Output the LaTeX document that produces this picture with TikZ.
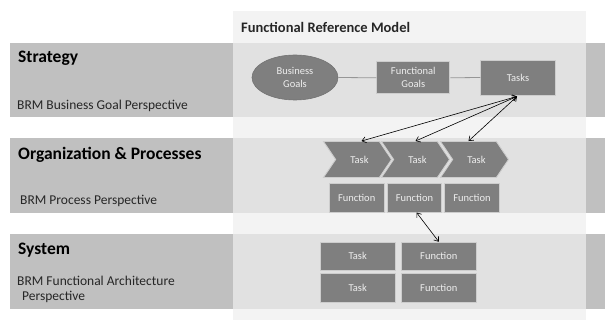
\documentclass[tikz,border=0pt]{standalone}
\usepackage{fontspec}
\setmainfont{Carlito}
\usetikzlibrary{shapes.geometric,shapes.symbols,arrows.meta,calc}
\definecolor{bandside}{RGB}{192,192,192}
\definecolor{bandmid}{RGB}{225,225,225}
\definecolor{panel}{RGB}{243,243,243}
\definecolor{boxfill}{RGB}{127,127,127}
\definecolor{boxedge}{RGB}{205,205,205}
\definecolor{boxtext}{RGB}{238,238,238}
\definecolor{linkgray}{RGB}{150,150,150}

\begin{document}
\begin{tikzpicture}[x=1pt,y=-1pt,
  box/.style={rectangle, fill=boxfill, draw=boxedge, line width=0.9pt, text=boxtext,
    font=\fontsize{10.5}{12}\selectfont, align=center, inner sep=0pt},
  chev/.style={signal, signal to=east, signal from=west, signal pointer angle=112,
    fill=boxfill, draw=boxedge, line width=0.9pt, text=boxtext,
    font=\fontsize{10.5}{12}\selectfont, inner sep=0pt, minimum width=68pt, minimum height=36pt},
  heading/.style={anchor=west, inner sep=0pt, font=\bfseries\fontsize{17.5}{20}\selectfont},
  persp/.style={anchor=west, inner sep=0pt, font=\fontsize{13.5}{15}\selectfont, text=black!85},
  link/.style={draw=linkgray, line width=0.8pt},
  conn/.style={draw=black, line width=0.6pt, {Straight Barb[length=4pt,width=6pt]}-{Straight Barb[length=4pt,width=6pt]}}]

\useasboundingbox (0,0) rectangle (605,320);
\fill[white] (0,0) rectangle (605,320);

% light column behind the model
\fill[panel] (233,11) rectangle (586,320);
\node[anchor=west, inner sep=0pt, font=\bfseries\fontsize{14.5}{16}\selectfont, text=black!85] (title) at (241,27) {Functional Reference Model};

% the three layers
\foreach \top/\bot in {43/117, 138/213, 234/309}{
  \fill[bandside] (10,\top) rectangle (233,\bot);
  \fill[bandmid] (233,\top) rectangle (586,\bot);
  \fill[bandside] (586,\top) rectangle (605,\bot);
}

% layer labels
\node[heading] (hs) at (18,58) {Strategy};
\node[persp] (ps) at (17,106) {BRM Business Goal Perspective};
\node[heading] (ho) at (18,155) {Organization \& Processes};
\node[persp] (po) at (20,201) {BRM Process Perspective};
\node[heading] (hy) at (18,250) {System};
\node[persp] (py1) at (17,281) {BRM Functional Architecture};
\node[persp] (py2) at (22,297) {Perspective};

% strategy layer
\node[ellipse, fill=boxfill, draw=boxfill!90!black, line width=0.6pt, text=boxtext,
  font=\fontsize{10.5}{12}\selectfont, align=center, inner sep=0pt,
  minimum width=86pt, minimum height=45pt] (bg) at (295,77.5) {Business\\[1pt]Goals};
\node[box, minimum width=73pt, minimum height=32pt] (fg) at (413.3,77.8) {Functional\\[1pt]Goals};
\node[box, minimum width=74.6pt, minimum height=35pt] (tasks) at (518,77.5) {Tasks};
\draw[link] (bg.east) -- (fg.west);
\draw[link] (fg.east) -- (tasks.west);

% process layer
\node[chev] (c1) at (357.5,159.5) {\hspace{4pt}Task};
\node[chev] (c2) at (415.5,159.5) {\hspace{4pt}Task};
\node[chev] (c3) at (474.5,159.5) {\hspace{4pt}Task};
\node[box, minimum width=54.7pt, minimum height=28.7pt] (f1) at (356.7,197.7) {Function};
\node[box, minimum width=54.7pt, minimum height=28.7pt] (f2) at (414.5,197.7) {Function};
\node[box, minimum width=54.7pt, minimum height=28.7pt] (f3) at (472,197.7) {Function};

% system layer
\node[box, minimum width=75pt, minimum height=28pt] (st1) at (357.7,256.2) {Task};
\node[box, minimum width=74.3pt, minimum height=28pt] (sf1) at (438.8,256.2) {Function};
\node[box, minimum width=75pt, minimum height=29pt] (st2) at (357.7,287.8) {Task};
\node[box, minimum width=74.3pt, minimum height=29pt] (sf2) at (438.8,287.8) {Function};

% cross-layer references
\draw[conn] ($(c1.north)+(4,0)$) -- ($(tasks.south)+(-1,1)$);
\draw[conn] ($(c2.north)+(0,0)$) -- ($(tasks.south)+(-1,1)$);
\draw[conn] ($(c3.north)+(-6,0)$) -- ($(tasks.south)+(-1,1)$);
\draw[conn] ($(f2.south)+(2,0)$) -- (sf1.north);

\end{tikzpicture}
\end{document}
